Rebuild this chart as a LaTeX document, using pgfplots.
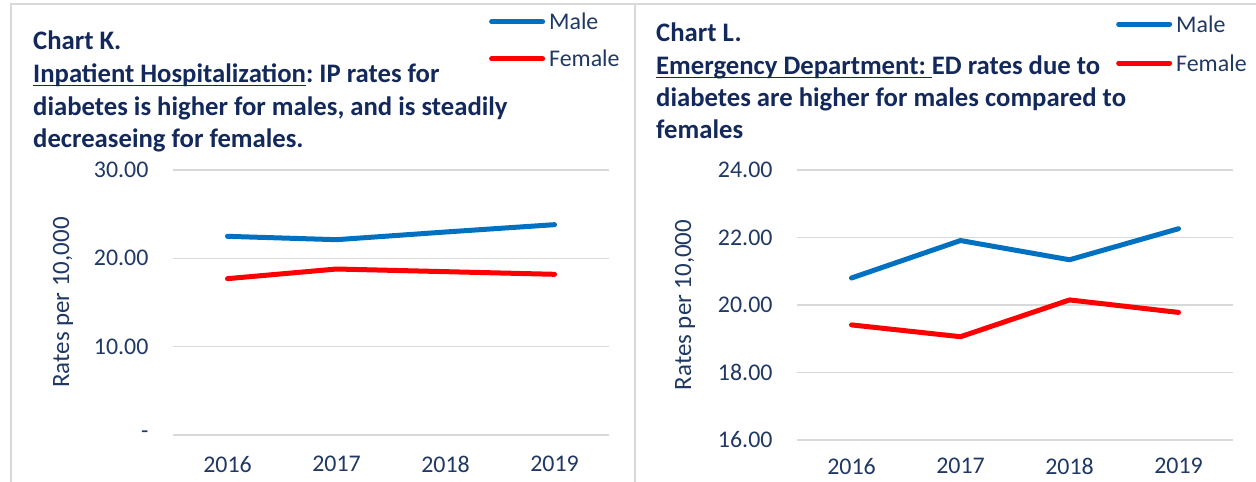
\documentclass[border=0pt]{standalone}
\usepackage{fontspec}
\setmainfont{Carlito}
\usepackage{pgfplots}
\pgfplotsset{compat=1.18}

\definecolor{navy}{HTML}{13295C}
\definecolor{ticknavy}{HTML}{1F3864}
\definecolor{maleblue}{HTML}{0070C0}
\definecolor{femalered}{HTML}{FF0000}
\definecolor{gridgray}{HTML}{D9D9D9}

\newcommand\ul[1]{\setbox0\hbox{#1}\rlap{\color{navy}\rule[-3.5bp]{\wd0}{1.3bp}}\box0}

\pgfplotsset{
  panel/.style={
    scale only axis,
    width=436bp,
    xmin=-0.5, xmax=3.5,
    xtick={0,1,2,3},
    xticklabels={2016,2017,2018,2019},
    axis line style={draw=none},
    major tick length=0pt,
    ymajorgrids,
    grid style={line width=1.5bp, gridgray},
    tick label style={font=\fontsize{24}{24}\selectfont, text=ticknavy},
    /pgf/number format/assume math mode=true,
    ylabel={Rates per 10,000},
    label style={font=\fontsize{25}{25}\selectfont, text=ticknavy},
    legend image code/.code={\draw[#1, line width=5bp, line cap=round] (2.5bp,0bp) -- (53.5bp,0bp);},
    every axis plot/.append style={line width=5bp, line join=round, line cap=round},
  },
}

\begin{document}
\frenchspacing
\begin{tikzpicture}[x=1bp, y=1bp]
\useasboundingbox (0,0) rectangle (1256,482);
% panel frames
\draw[line width=1.5bp, gridgray] (11,0) -- (11,478) -- (1256,478);
\draw[line width=1.5bp, gridgray] (635,0) -- (635,478);

% ---- Chart K
\begin{axis}[panel,
  at={(173bp,47bp)}, anchor=south west,
  height=265bp,
  ymin=0, ymax=30,
  ytick={0,10,20,30},
  yticklabels={-\hspace{10bp},10.00,20.00,30.00},
  yticklabel style={xshift=-21bp},
  xticklabel style={inner sep=1bp, yshift=-20bp},
  ylabel style={at={(axis description cs:-0.252,0.5)}, anchor=center},
  legend style={draw=none, fill=none, inner sep=0pt, outer sep=0pt,
    at={(axis description cs:0.725,1.589)}, anchor=north west,
    font=\fontsize{24}{24}\selectfont, text=ticknavy,
    nodes={inner sep=0pt, text height=16bp, text depth=0pt},
    row sep=21bp, column sep=4bp,
    cells={anchor=west}},
]
\addplot[maleblue] coordinates {(0,22.49) (1,22.11) (2,22.98) (3,23.81)};
\addlegendentry{Male}
\addplot[femalered] coordinates {(0,17.70) (1,18.79) (2,18.49) (3,18.19)};
\addlegendentry{Female}
\end{axis}

% ---- Chart L
\begin{axis}[panel,
  at={(797bp,42bp)}, anchor=south west,
  height=270bp,
  ymin=16, ymax=24,
  ytick={16,18,20,22,24},
  yticklabels={16.00,18.00,20.00,22.00,24.00},
  yticklabel style={xshift=-21bp},
  xticklabel style={inner sep=1bp, yshift=-17bp},
  ylabel style={at={(axis description cs:-0.257,0.5)}, anchor=center},
  legend style={draw=none, fill=none, inner sep=0pt, outer sep=0pt,
    at={(axis description cs:0.732,1.570)}, anchor=north west,
    font=\fontsize{24}{24}\selectfont, text=ticknavy,
    nodes={inner sep=0pt, text height=16bp, text depth=0pt},
    row sep=23bp, column sep=4bp,
    cells={anchor=west}},
]
\addplot[maleblue] coordinates {(0,20.80) (1,21.91) (2,21.34) (3,22.26)};
\addlegendentry{Male}
\addplot[femalered] coordinates {(0,19.41) (1,19.06) (2,20.15) (3,19.78)};
\addlegendentry{Female}
\end{axis}

% titles
\begin{scope}[every node/.style={anchor=base west, inner sep=0pt, text=navy,
    font=\fontsize{26.8}{26.8}\selectfont\bfseries}]
\node at (33,432) {Chart K.};
\node at (33,399) {\ul{Inpatient Hospitalization}: IP rates for};
\node at (33,366) {diabetes is higher for males, and is steadily};
\node at (33,334) {decreaseing for females.};
\node at (656,440) {Chart L.};
\node at (656,407) {\ul{Emergency Department:\ }ED rates due to};
\node at (656,375) {diabetes are higher for males compared to};
\node at (656,343) {females};
\end{scope}
\end{tikzpicture}
\end{document}
